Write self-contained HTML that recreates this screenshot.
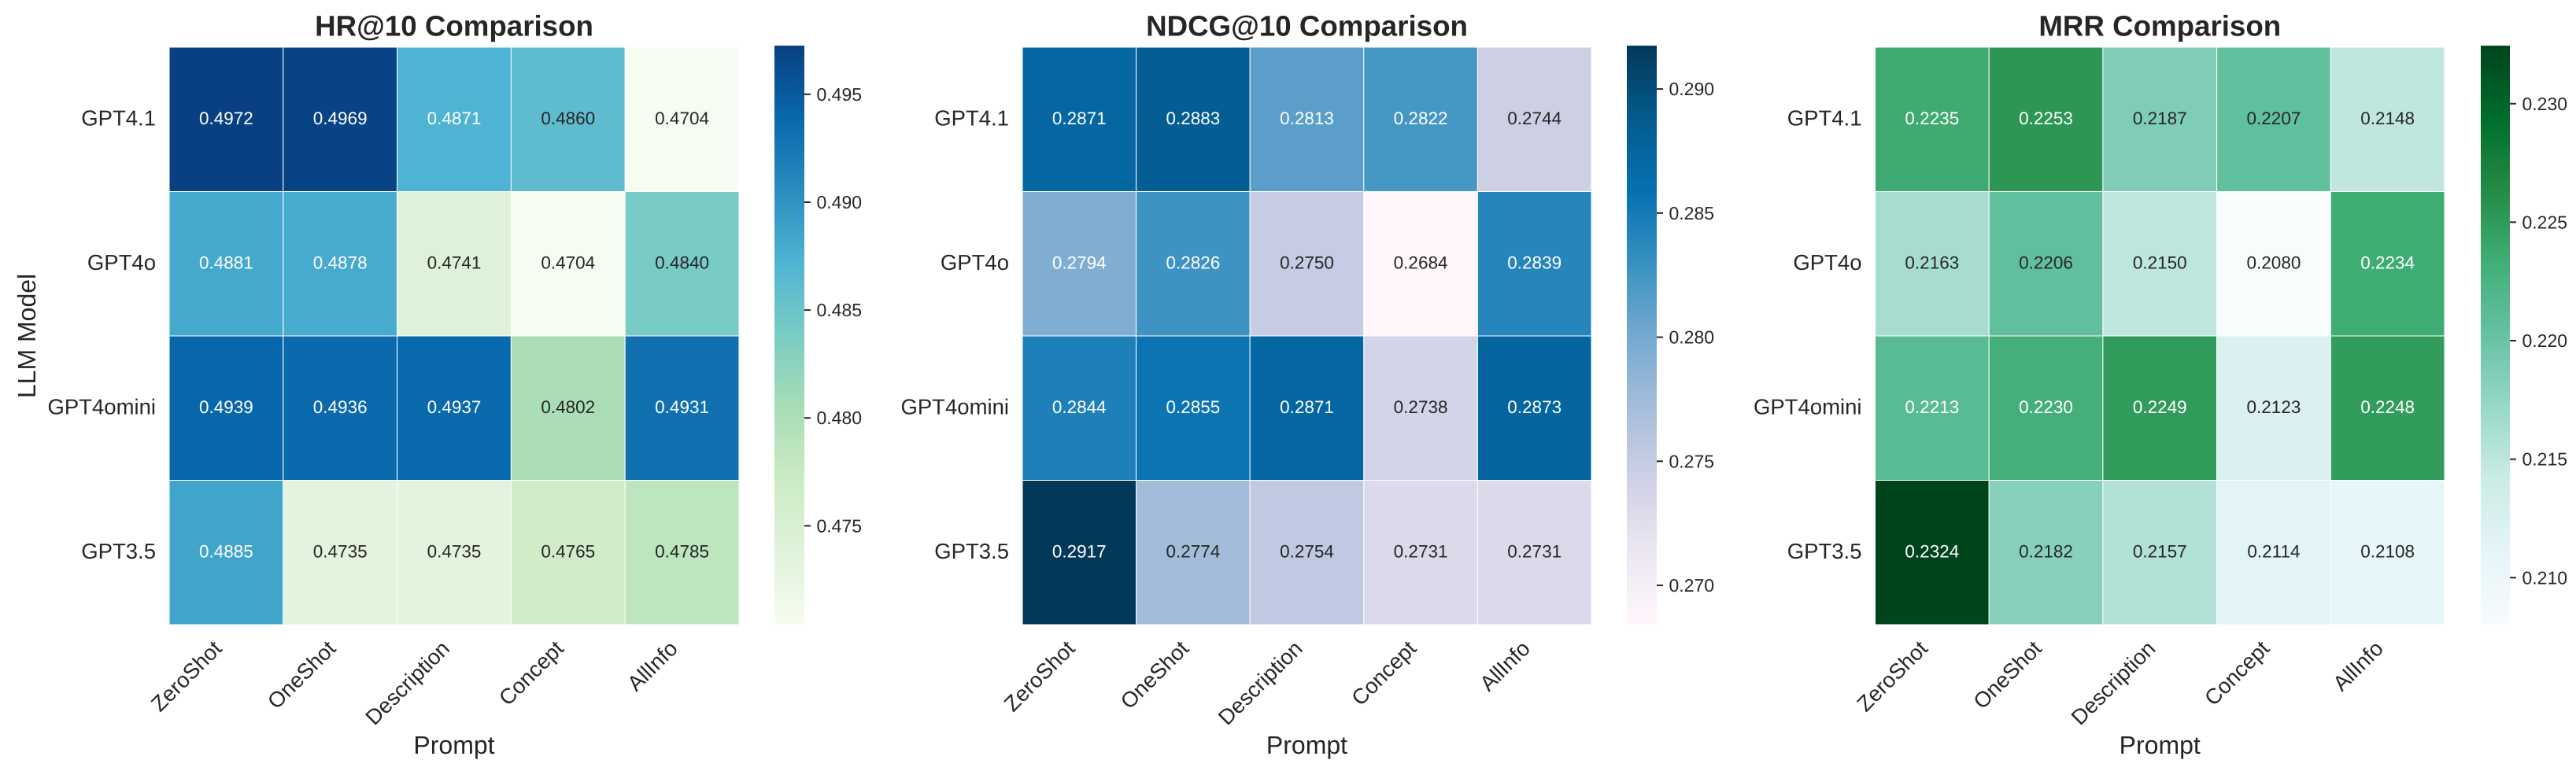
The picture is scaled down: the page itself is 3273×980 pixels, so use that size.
<!DOCTYPE html>
<html lang="en">
<head>
<meta charset="utf-8">
<title>LLM Model vs Prompt Comparison Heatmaps</title>
<style>
html,body{margin:0;padding:0;background:#fff;}
svg{display:block;}
text{font-family:"Liberation Sans",Arial,sans-serif;fill:#262626;text-rendering:geometricPrecision;}
</style>
</head>
<body>
<svg id="figure" xmlns="http://www.w3.org/2000/svg" width="3273" height="980" viewBox="0 0 3273 980"></svg>
<script>
const models = ["GPT4.1", "GPT4o", "GPT4omini", "GPT3.5"];
const prompts = ["ZeroShot", "OneShot", "Description", "Concept", "AllInfo"];

const hrValues = [
  [0.4972, 0.4969, 0.4871, 0.4860, 0.4704],
  [0.4881, 0.4878, 0.4741, 0.4704, 0.4840],
  [0.4939, 0.4936, 0.4937, 0.4802, 0.4931],
  [0.4885, 0.4735, 0.4735, 0.4765, 0.4785]
];
const ndcgValues = [
  [0.2871, 0.2883, 0.2813, 0.2822, 0.2744],
  [0.2794, 0.2826, 0.2750, 0.2684, 0.2839],
  [0.2844, 0.2855, 0.2871, 0.2738, 0.2873],
  [0.2917, 0.2774, 0.2754, 0.2731, 0.2731]
];
const mrrValues = [
  [0.2235, 0.2253, 0.2187, 0.2207, 0.2148],
  [0.2163, 0.2206, 0.2150, 0.2080, 0.2234],
  [0.2213, 0.2230, 0.2249, 0.2123, 0.2248],
  [0.2324, 0.2182, 0.2157, 0.2114, 0.2108]
];

const hrTicks = [0.475, 0.480, 0.485, 0.490, 0.495];
const ndcgTicks = [0.270, 0.275, 0.280, 0.285, 0.290];
const mrrTicks = [0.210, 0.215, 0.220, 0.225, 0.230];

const gnbuColors = [[247,252,240],[224,243,219],[204,235,197],[168,221,181],[123,204,196],[78,179,211],[43,140,190],[8,104,172],[8,64,129]];
const pubuColors = [[255,247,251],[236,231,242],[208,209,230],[166,189,219],[116,169,207],[54,144,192],[5,112,176],[4,90,141],[2,56,88]];
const bugnColors = [[247,252,253],[229,245,249],[204,236,230],[153,216,201],[102,194,164],[65,174,118],[35,139,69],[0,109,44],[0,68,27]];

const SVG_NS = "http://www.w3.org/2000/svg";
const figure = document.getElementById("figure");

function make(tag, parent) {
  const el = document.createElementNS(SVG_NS, tag);
  parent.appendChild(el);
  return el;
}

function sampleColormap(stops, t) {
  const clamped = Math.max(0, Math.min(1, t));
  const level = Math.round(clamped * 255) / 255;
  const pos = level * (stops.length - 1);
  const i = Math.min(stops.length - 2, Math.floor(pos));
  const f = pos - i;
  return stops[i].map((c, k) => Math.round(c + (stops[i + 1][k] - c) * f));
}

function relativeLuminance(rgb) {
  const lin = rgb.map(c => {
    const v = c / 255;
    return v <= 0.03928 ? v / 12.92 : Math.pow((v + 0.055) / 1.055, 2.4);
  });
  return 0.2126 * lin[0] + 0.7152 * lin[1] + 0.0722 * lin[2];
}

function drawHeatmap(cfg) {
  const flat = cfg.values.flat();
  const vmin = Math.min(...flat);
  const vmax = Math.max(...flat);
  const top = 60, bottom = 794;
  const cellW = (cfg.right - cfg.left) / prompts.length;
  const cellH = (bottom - top) / models.length;
  const xBand = i => cfg.left + i * cellW;
  const yBand = j => top + j * cellH;
  const norm = v => (v - vmin) / (vmax - vmin);
  const cbarY = v => 794.5 - norm(v) * 735;
  const centerX = (cfg.left + cfg.right) / 2;

  const panel = make("g", figure);
  
  

  const title = make("text", panel);
  
  
  title.setAttribute("x", centerX);
  title.setAttribute("y", 45.5);
  title.setAttribute("text-anchor", "middle");
  title.setAttribute("font-size", "36.7");
  title.setAttribute("font-weight", "700");
  title.textContent = cfg.title;

  cfg.values.forEach((row, j) => {
    row.forEach((v, i) => {
      const rgb = sampleColormap(cfg.stops, norm(v));
      const cell = make("rect", panel);
      
      
      cell.setAttribute("x", xBand(i));
      cell.setAttribute("y", yBand(j));
      cell.setAttribute("width", cellW);
      cell.setAttribute("height", cellH);
      cell.setAttribute("fill", "rgb(" + rgb.join(",") + ")");
      cell.setAttribute("stroke", "#fff");
      cell.setAttribute("stroke-width", "1");

      const label = make("text", panel);
      
      
      label.setAttribute("x", xBand(i) + cellW / 2);
      label.setAttribute("y", yBand(j) + cellH / 2 + 6);
      label.setAttribute("text-anchor", "middle");
      label.setAttribute("font-size", "22.5");
      label.style.fill = relativeLuminance(rgb) > 0.408 ? "#262626" : "#ffffff";
      label.textContent = v.toFixed(4);
    });
  });

  // frame edge cleanup: outer strokes blend with the white page
  models.forEach((m, j) => {
    const tick = make("text", panel);
    
    
    tick.setAttribute("x", cfg.left - 17);
    tick.setAttribute("y", yBand(j) + cellH / 2 + 7.6);
    tick.setAttribute("text-anchor", "end");
    tick.setAttribute("font-size", "27.5");
    tick.textContent = m;
  });

  prompts.forEach((p, i) => {
    const px = xBand(i) + cellW / 2 - 4;
    const py = 826;
    const tick = make("text", panel);
    
    
    tick.setAttribute("x", px);
    tick.setAttribute("y", py);
    tick.setAttribute("text-anchor", "end");
    tick.setAttribute("font-size", "27.5");
    tick.setAttribute("transform", "rotate(-45 " + px + " " + py + ")");
    tick.textContent = p;
  });

  const xTitle = make("text", panel);
  
  
  xTitle.setAttribute("x", centerX);
  xTitle.setAttribute("y", 958);
  xTitle.setAttribute("text-anchor", "middle");
  xTitle.setAttribute("font-size", "32");
  xTitle.textContent = "Prompt";

  if (cfg.showYTitle) {
    const yTitle = make("text", panel);
    
    
    yTitle.setAttribute("x", 45);
    yTitle.setAttribute("y", 427);
    yTitle.setAttribute("text-anchor", "middle");
    yTitle.setAttribute("font-size", "32");
    yTitle.setAttribute("transform", "rotate(-90 45 427)");
    yTitle.textContent = "LLM Model";
  }

  const defs = make("defs", panel);
  const grad = make("linearGradient", defs);
  grad.setAttribute("id", cfg.name + "-gradient");
  grad.setAttribute("x1", "0");
  grad.setAttribute("y1", "1");
  grad.setAttribute("x2", "0");
  grad.setAttribute("y2", "0");
  for (let k = 0; k <= 32; k++) {
    const stop = make("stop", grad);
    stop.setAttribute("offset", k / 32);
    stop.setAttribute("stop-color", "rgb(" + sampleColormap(cfg.stops, k / 32).join(",") + ")");
  }

  const cbar = make("rect", panel);
  
  
  cbar.setAttribute("x", cfg.cbarLeft);
  cbar.setAttribute("y", 58);
  cbar.setAttribute("width", cfg.cbarRight - cfg.cbarLeft);
  cbar.setAttribute("height", 736);
  cbar.setAttribute("fill", "url(#" + cfg.name + "-gradient)");

  cfg.ticks.forEach(v => {
    const y = cbarY(v);
    const mark = make("line", panel);
    
    
    mark.setAttribute("x1", cfg.cbarRight);
    mark.setAttribute("x2", cfg.cbarRight + 8);
    mark.setAttribute("y1", y);
    mark.setAttribute("y2", y);
    mark.setAttribute("stroke", "#262626");
    mark.setAttribute("stroke-width", "2");

    const label = make("text", panel);
    
    
    label.setAttribute("x", cfg.cbarRight + 15.5);
    label.setAttribute("y", y + 8);
    label.setAttribute("font-size", "23");
    label.textContent = v.toFixed(3);
  });
}

drawHeatmap({name: "hr", title: "HR@10 Comparison", values: hrValues, ticks: hrTicks, stops: gnbuColors, left: 215, right: 939, cbarLeft: 984, cbarRight: 1022, showYTitle: true});
drawHeatmap({name: "ndcg", title: "NDCG@10 Comparison", values: ndcgValues, ticks: ndcgTicks, stops: pubuColors, left: 1299, right: 2022, cbarLeft: 2067, cbarRight: 2105, showYTitle: false});
drawHeatmap({name: "mrr", title: "MRR Comparison", values: mrrValues, ticks: mrrTicks, stops: bugnColors, left: 2382.5, right: 3106, cbarLeft: 3152, cbarRight: 3189, showYTitle: false});
</script>
</body>
</html>
